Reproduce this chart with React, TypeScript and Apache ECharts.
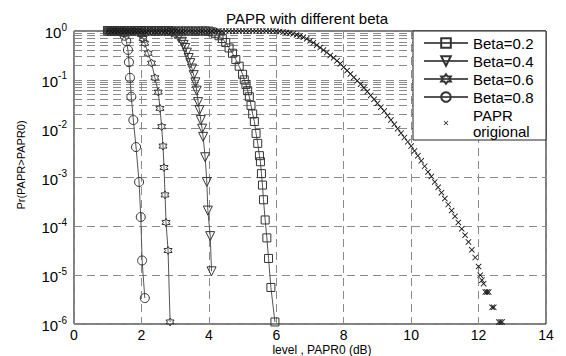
import React, { useEffect, useRef } from 'react';
import * as echarts from 'echarts';

const FONT = '"Liberation Sans", Arial, Helvetica, sans-serif';

const seriesNames = ['Beta=0.2', 'Beta=0.4', 'Beta=0.6', 'Beta=0.8', 'PAPR origional'];

const beta02X = [1.0, 1.1, 1.2, 1.3, 1.4, 1.5, 1.6, 1.7, 1.8, 1.9, 2.0, 2.1, 2.2, 2.3, 2.4, 2.5, 2.6, 2.7, 2.8, 2.9, 3.0, 3.1, 3.2, 3.3, 3.4, 3.5, 3.6, 3.7, 3.8, 3.9, 4.0,
  4.1, 4.2, 4.3, 4.4, 4.5, 4.6, 4.7, 4.8, 4.9, 5.0, 5.05, 5.1, 5.15, 5.2, 5.25, 5.3, 5.35, 5.4, 5.45, 5.5, 5.53, 5.56, 5.59, 5.62, 5.67, 5.72, 5.77, 5.84, 5.96];
const beta02P = [1, 1, 1, 1, 1, 1, 1, 1, 1, 1, 1, 1, 1, 1, 1, 1, 1, 1, 1, 1, 1, 1, 1, 1, 1, 1, 1, 1, 1, 1, 1,
  0.96, 0.88, 0.8, 0.7, 0.58, 0.45, 0.35, 0.26, 0.19, 0.13, 0.1, 0.08, 0.06, 0.045, 0.03, 0.02, 0.014, 0.008, 0.005, 0.0028, 0.0021, 0.0012, 7e-4, 3.5e-4, 1.35e-4, 5.8e-5, 2.2e-5, 5.6e-6, 1.1e-6];

const beta04X = [1.0, 1.1, 1.2, 1.3, 1.4, 1.5, 1.6, 1.7, 1.8, 1.9, 2.0, 2.1, 2.2, 2.3, 2.4, 2.5, 2.6, 2.7, 2.8,
  2.9, 3.0, 3.1, 3.2, 3.25, 3.3, 3.35, 3.4, 3.45, 3.5, 3.55, 3.6, 3.64, 3.68, 3.72, 3.76, 3.8, 3.83, 3.89, 3.94, 3.97, 4.04, 4.08];
const beta04P = [1, 1, 1, 1, 1, 1, 1, 1, 1, 1, 1, 1, 1, 1, 1, 1, 1, 1, 1,
  0.92, 0.85, 0.74, 0.6, 0.52, 0.45, 0.36, 0.28, 0.22, 0.17, 0.125, 0.089, 0.06, 0.035, 0.024, 0.015, 0.01, 0.0068, 0.0026, 8.1e-4, 2.1e-4, 6.3e-5, 1.2e-5];

const beta06X = [1.0, 1.1, 1.2, 1.3, 1.4, 1.5, 1.6, 1.7, 1.8, 1.9,
  2.0, 2.05, 2.1, 2.2, 2.3, 2.4, 2.5, 2.55, 2.6, 2.64, 2.67, 2.7, 2.73, 2.79, 2.85];
const beta06P = [1, 1, 1, 1, 1, 1, 1, 1, 1, 1,
  0.85, 0.7, 0.56, 0.35, 0.22, 0.11, 0.056, 0.026, 0.011, 0.0044, 0.0016, 4.4e-4, 1.2e-4, 3.2e-5, 1.1e-6];

const beta08X = [1.0, 1.1, 1.2, 1.3, 1.4, 1.45, 1.5, 1.55, 1.6, 1.63, 1.66, 1.7, 1.76, 1.84, 1.93, 1.98, 2.02, 2.1];
const beta08P = [1, 1, 1, 1, 1, 0.95, 0.8, 0.62, 0.41, 0.23, 0.11, 0.045, 0.015, 0.0042, 8.1e-4, 1.55e-4, 2.0e-5, 3.4e-6];

const origX = [1.0, 1.1, 1.2, 1.3, 1.4, 1.5, 1.6, 1.7, 1.8, 1.9, 2.0, 2.1, 2.2, 2.3, 2.4, 2.5, 2.6, 2.7, 2.8, 2.9,
  3.0, 3.1, 3.2, 3.3, 3.4, 3.5, 3.6, 3.7, 3.8, 3.9, 4.0, 4.1, 4.2, 4.3, 4.4, 4.5, 4.6, 4.7, 4.8, 4.9,
  5.0, 5.1, 5.2, 5.3, 5.4, 5.5, 5.6, 5.7, 5.8, 5.9, 6.0,
  6.1, 6.2, 6.3, 6.4, 6.5, 6.6, 6.7, 6.8, 6.9, 7.0, 7.1, 7.2, 7.3, 7.4, 7.5, 7.6, 7.7, 7.8, 7.9,
  8.0, 8.1, 8.2, 8.3, 8.4, 8.5, 8.6, 8.7, 8.8, 8.9, 9.0, 9.1, 9.2, 9.3, 9.4, 9.5, 9.6, 9.7, 9.8, 9.9,
  10.0, 10.1, 10.2, 10.3, 10.4, 10.5, 10.6, 10.7, 10.8, 10.9, 11.0, 11.1, 11.2, 11.3, 11.4, 11.5, 11.6, 11.7, 11.8, 11.9,
  12.0, 12.05, 12.1, 12.15, 12.2, 12.25, 12.3, 12.4, 12.45, 12.6, 12.65, 12.7];
const origP = [1, 1, 1, 1, 1, 1, 1, 1, 1, 1, 1, 1, 1, 1, 1, 1, 1, 1, 1, 1,
  1, 1, 1, 1, 1, 1, 1, 1, 1, 1, 1, 1, 1, 1, 1, 1, 1, 1, 1, 1,
  1, 1, 1, 1, 1, 1, 1, 1, 1, 1, 0.99,
  0.977, 0.955, 0.933, 0.912, 0.871, 0.832, 0.794, 0.741, 0.692, 0.631, 0.575, 0.513, 0.457, 0.407, 0.363, 0.316, 0.282, 0.245, 0.214,
  0.182, 0.155, 0.132, 0.112, 0.0955, 0.0813, 0.0692, 0.0575, 0.0479, 0.0398, 0.0331, 0.0275, 0.0229, 0.0186, 0.0151, 0.0123, 0.01, 0.0081, 0.0066, 0.0054,
  0.0044, 0.0035, 0.0028, 0.0022, 0.0017, 0.0013, 0.00105, 8.1e-4, 6.3e-4, 4.9e-4, 3.7e-4, 2.8e-4, 2.1e-4, 1.6e-4, 1.2e-4, 8.9e-5, 6.6e-5, 4.8e-5, 3.3e-5, 2.3e-5,
  1.5e-5, 1.0e-5, 7.9e-6, 6.7e-6, 4.5e-6, 4.5e-6, 4.5e-6, 2.2e-6, 2.2e-6, 1.1e-6, 1.1e-6, 1.1e-6];

const minorMantissas = [2, 3, 4, 5, 6, 7, 8, 9];
const minorDecades = [-1, -2, -3, -4, -5, -6];

const HEXAGRAM = 'path://M10,0L12.89,5L18.66,5L15.77,10L18.66,15L12.89,15L10,20L7.11,15L1.34,15L4.23,10L1.34,5L7.11,5Z';
const CROSS = 'path://M0,1L1,0L5,4L9,0L10,1L6,5L10,9L9,10L5,6L1,10L0,9L4,5Z';
// same cross with empty margin so the legend icon stays small
const CROSS_LEGEND = 'path://M-8,-8M18,18M0,1L1,0L5,4L9,0L10,1L6,5L10,9L9,10L5,6L1,10L0,9L4,5Z';

const pairs = (xs: number[], ps: number[]) => xs.map((x, i) => [x, ps[i]]);

export default function App() {
  const ref = useRef<HTMLDivElement>(null);
  useEffect(() => {
    const chart = echarts.init(ref.current!, undefined, { renderer: 'svg' });
    const gridColor = '#8a8a8a';
    const dash = [8, 5];
    const minorLines: any[] = [];
    for (const e of minorDecades) for (const m of minorMantissas) minorLines.push({ yAxis: m * Math.pow(10, e) });

    const lineSeries = (name: string, data: any[], symbol: string, size: number, rotate = 0, extra: any = {}) => ({
      name,
      type: 'line',
      data,
      symbol,
      symbolSize: size,
      symbolRotate: rotate,
      showAllSymbol: true,
      clip: false,
      lineStyle: { color: '#555', width: 1 },
      itemStyle: { color: 'rgba(255,255,255,0)', borderColor: '#333', borderWidth: 1 },
      emphasis: { disabled: true },
      ...extra,
    });

    chart.setOption({
      animation: false,
      backgroundColor: '#fff',
      textStyle: { fontFamily: FONT },
      grid: { left: 74, right: 20, top: 31, bottom: 32, show: true, borderColor: '#000', borderWidth: 1, backgroundColor: '#fff' },
      xAxis: {
        type: 'value', min: 0, max: 14, interval: 2,
        axisLine: { show: false }, axisTick: { show: false },
        axisLabel: { fontSize: 14, color: '#000', margin: 4, fontFamily: FONT },
        splitLine: { show: true, lineStyle: { color: gridColor, type: dash, width: 1 } },
      },
      yAxis: {
        type: 'log', logBase: 10, min: 1e-6, max: 1,
        axisLine: { show: false }, axisTick: { show: false },
        axisLabel: {
          margin: 7,
          formatter: (v: number) => '{b|10}{s|' + Math.round(Math.log10(v)) + '}',
          rich: {
            b: { fontSize: 15, lineHeight: 18, verticalAlign: 'bottom', color: '#000', fontFamily: FONT },
            s: { fontSize: 10, lineHeight: 10, verticalAlign: 'top', color: '#000', fontFamily: FONT },
          },
        },
        splitLine: { show: true, lineStyle: { color: gridColor, type: dash, width: 1 } },
      },
      legend: {
        orient: 'vertical', left: 413, top: 31, z: 10,
        padding: [4, 7, 1, 10], itemGap: 2, itemWidth: 44, itemHeight: 12,
        backgroundColor: '#fff', borderColor: '#222', borderWidth: 1,
        textStyle: { fontSize: 15, lineHeight: 16, color: '#000', fontFamily: FONT, width: 66 },
        formatter: (name: string) => (name === 'PAPR origional' ? 'PAPR\norigional' : name),
        data: [
          { name: seriesNames[0] },
          { name: seriesNames[1] },
          { name: seriesNames[2] },
          { name: seriesNames[3] },
          { name: seriesNames[4], icon: CROSS_LEGEND },
        ],
        selectedMode: false,
      },
      graphic: [
        { type: 'text', x: 307, y: 18, style: { text: 'PAPR with different beta', align: 'center', verticalAlign: 'middle', fontSize: 15, fill: '#000', fontFamily: FONT } },
        { type: 'text', x: 322, y: 350, style: { text: 'level , PAPR0 (dB)', align: 'center', verticalAlign: 'middle', fontSize: 12, fill: '#000', fontFamily: FONT } },
        { type: 'text', x: 21, y: 165, rotation: Math.PI / 2, style: { text: 'Pr(PAPR>PAPR0)', align: 'center', verticalAlign: 'middle', fontSize: 11, fill: '#000', fontFamily: FONT } },
      ],
      series: [
        lineSeries(seriesNames[0], pairs(beta02X, beta02P), 'rect', 8, 0, {
          markLine: {
            silent: true, z: 1, symbol: ['none', 'none'], label: { show: false },
            lineStyle: { color: gridColor, type: dash, width: 1 },
            emphasis: { disabled: true },
            data: minorLines,
          },
        }),
        lineSeries(seriesNames[1], pairs(beta04X, beta04P), 'triangle', 9, 180),
        lineSeries(seriesNames[2], pairs(beta06X, beta06P), HEXAGRAM, 8),
        lineSeries(seriesNames[3], pairs(beta08X, beta08P), 'circle', 9),
        {
          name: seriesNames[4], type: 'line', data: pairs(origX, origP),
          symbol: CROSS, symbolSize: 6, showAllSymbol: true, clip: false,
          lineStyle: { width: 0, opacity: 0, color: '#111' },
          itemStyle: { color: '#111' },
          emphasis: { disabled: true },
        },
      ],
    });
    return () => chart.dispose();
  }, []);
  return <div ref={ref} style={{ position: 'fixed', left: 0, top: 0, width: 566, height: 356, background: '#fff' }} />;
}
